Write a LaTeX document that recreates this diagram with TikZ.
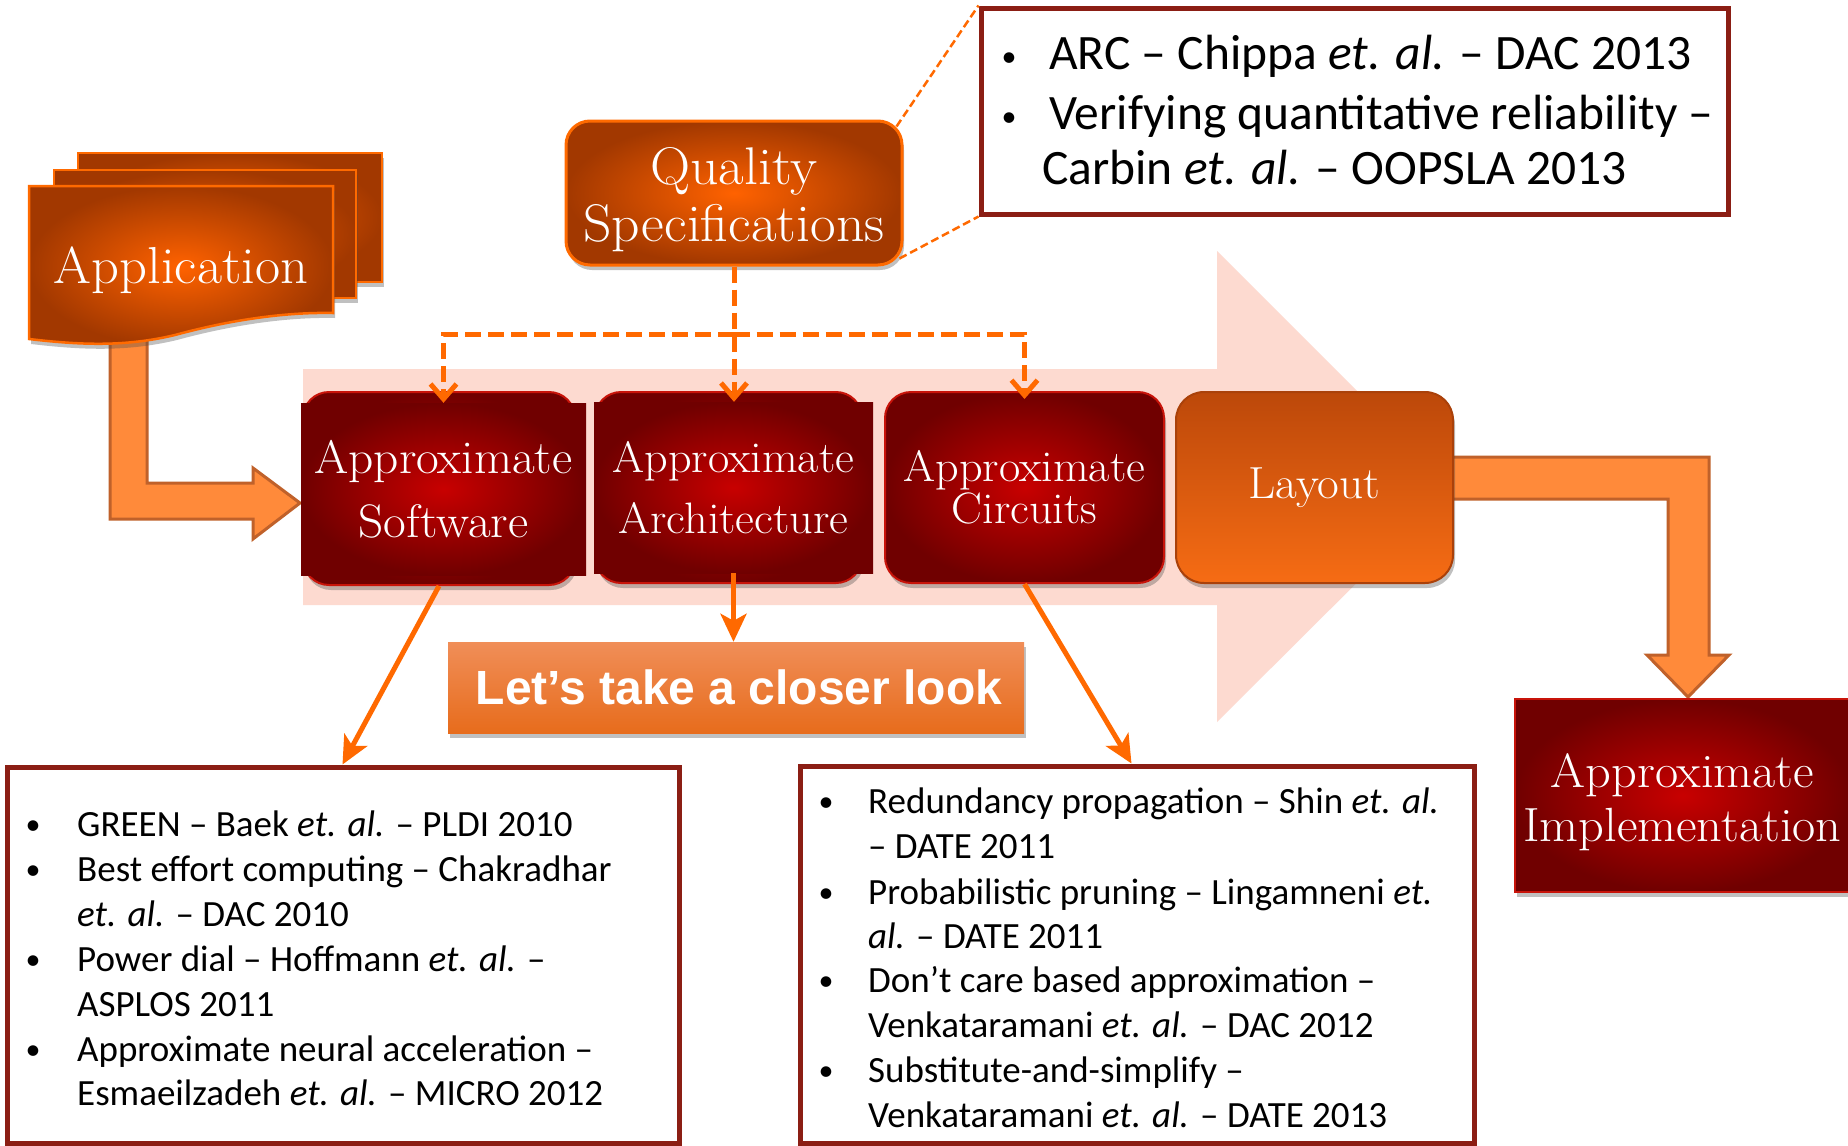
\documentclass[tikz,border=0pt]{standalone}
\usepackage{fontspec}
\newfontfamily\gill{Carlito}
\newfontfamily\arialb{Liberation Sans}
\newfontfamily\serifw[FakeStretch=1.05]{Latin Modern Roman}
\usetikzlibrary{arrows.meta,shadows,calc}
\definecolor{orline}{RGB}{255,105,0}
\definecolor{pinkbg}{RGB}{253,218,208}
\definecolor{barrowfill}{RGB}{255,138,58}
\definecolor{barrowline}{RGB}{192,97,42}
\definecolor{boxline}{RGB}{139,30,20}
\definecolor{redin}{RGB}{200,0,0}
\definecolor{redout}{RGB}{112,0,0}
\definecolor{redline}{RGB}{200,20,10}
\definecolor{orin}{RGB}{255,98,0}
\definecolor{orout}{RGB}{162,56,0}
\definecolor{orborder}{RGB}{255,106,0}
\definecolor{laytop}{RGB}{188,72,10}
\definecolor{laybot}{RGB}{246,108,20}
\definecolor{layline}{RGB}{170,65,10}
\definecolor{lettop}{RGB}{240,142,88}
\definecolor{letbot}{RGB}{231,108,28}
\newcommand{\etal}{\textit{et. al.}}
\newcommand{\bul}{{\fontsize{30}{30}\selectfont •}}
\begin{document}
\begin{tikzpicture}[x=1pt,y=-1pt,
  shad/.style={drop shadow={opacity=0.35,shadow xshift=2pt,shadow yshift=-5pt,fill=black!70}},
  docshape/.style={draw=orborder,line width=2.5pt,inner color=orin,outer color=orout,shad},
  qbox/.style={draw=orborder,line width=3pt,rounded corners=24pt,inner color=orin,outer color=orout,shad,inner sep=0pt},
  wtext/.style={text=white,align=center,inner sep=0pt},
  redround/.style={draw=redline,line width=2pt,rounded corners=26pt,inner color=redin,outer color=redout,shad,inner sep=0pt},
  redrect/.style={inner color=redin,outer color=redout,inner sep=0pt,text=white,align=center},
  laybox/.style={draw=layline,line width=2pt,rounded corners=28pt,top color=laytop,bottom color=laybot,shad,
     inner sep=0pt,text=white,font=\serifw\fontsize{45}{52}\selectfont},
  implbox/.style={draw=redline,line width=2pt,inner color=redin,outer color=redout,shad,inner sep=0pt},
  letbox/.style={top color=lettop,bottom color=letbot,shad,inner sep=0pt,text=white,
     font=\arialb\bfseries\fontsize{48}{56}\selectfont},
  refbox/.style={draw=boxline,line width=5pt,fill=white,inner sep=0pt},
  listtxt/.style={inner sep=0pt,text=black,font=\gill\fontsize{37}{45}\selectfont},
  arctxt/.style={inner sep=0pt,text=black,font=\gill\fontsize{49.5}{57}\selectfont},
  blockarrow/.style={fill=barrowfill,draw=barrowline,line width=3pt,line join=miter},
  dasharrow/.style={draw=orline,line width=5pt,dash pattern=on 16pt off 7pt,-{Straight Barb[length=15pt,width=26pt,line width=5pt]}},
  thindash/.style={draw=orline,line width=2.5pt,dash pattern=on 8pt off 4pt},
  solidarrow/.style={draw=orline,line width=5pt,-{Stealth[length=28pt,width=26pt,inset=7pt]}}
]
\useasboundingbox (0,0) rectangle (1848,1146);
\fill[white] (0,0) rectangle (1848,1146);

% big pink background arrow
\fill[pinkbg] (303,369) -- (1217,369) -- (1217,251) -- (1453,487) -- (1217,722) -- (1217,605) -- (303,605) -- cycle;

% block arrow from application
\draw[blockarrow] (110,330) -- (147,330) -- (147,483) -- (253,483) -- (253,468) -- (300,503) -- (253,539) -- (253,519) -- (110,519) -- cycle;
% block arrow to implementation
\draw[blockarrow] (1440,457) -- (1709,457) -- (1709,655) -- (1729,655) -- (1688,697) -- (1647,655) -- (1668,655) -- (1668,499) -- (1440,499) -- cycle;

% application document stack
\draw[docshape] (78,153) rectangle (382,282);
\draw[docshape] (54,170) rectangle (356,298);
\draw[docshape] (29,186) -- (333,186) -- (333,313) .. controls (285,312) and (230,320) .. (175,335) .. controls (125,347) and (80,345) .. (29,339) -- cycle;
\node[wtext,font=\serifw\fontsize{52}{58}\selectfont] (app) at (181,270) {Application};

% quality specifications
\node[qbox,minimum width=336pt,minimum height=144pt] (qs) at (734,193) {};
\node[wtext,font=\serifw\fontsize{53}{57}\selectfont] (qslabel) at (734,200) {Quality\\Specifications};

% reference box top
\node[refbox,minimum width=747pt,minimum height=206pt] (arc) at (1354.5,111) {};
\node[arctxt,anchor=base] (ab1) at (1009,66) {\bul};
\node[arctxt,anchor=base west] (at1) at (1049,69) {ARC – Chippa \etal{} – DAC 2013};
\node[arctxt,anchor=base] (ab2) at (1009,126) {\bul};
\node[arctxt,anchor=base west] (at2) at (1049,129) {Verifying quantitative reliability –};
\node[arctxt,anchor=base west] (at3) at (1042,184) {Carbin \etal{} – OOPSLA 2013};

\draw[thindash] ([shift={(-7pt,-7pt)}]qs.north east) -- (arc.north west);
\draw[thindash] ([shift={(-4pt,8pt)}]qs.south east) -- (arc.south west);

% row of boxes
\node[redround,minimum width=272pt,minimum height=193pt] (swbg) at (439,488.5) {};
\node[redrect,minimum width=285pt,minimum height=172pt,font=\serifw\fontsize{47}{64}\selectfont] (sw) at (443.5,489) {Approximate\\Software};
\node[redround,minimum width=267pt,minimum height=191pt] (archbg) at (728.5,487.5) {};
\node[redrect,minimum width=279pt,minimum height=171pt,font=\serifw\fontsize{44}{61}\selectfont] (arch) at (733.5,487.5) {Approximate\\Architecture};
\node[redround,minimum width=279pt,minimum height=191pt,text=white,align=center,font=\serifw\fontsize{44}{42}\selectfont] (cir) at (1024.5,487.5) {Approximate\\Circuits};
\node[laybox,minimum width=277pt,minimum height=191pt] (lay) at (1314.5,487.5) {Layout};

% implementation
\node[implbox,minimum width=335pt,minimum height=193pt] (impl) at (1682.5,795.5) {};
\node[wtext,font=\serifw\fontsize{48}{54}\selectfont] (impllabel) at (1682.5,802) {Approximate\\Implementation};

% dashed connectors from quality specifications
\coordinate (hub) at (733.5,334);
\draw[dasharrow] (qs.south) -- (qs.south |- arch.north);
\draw[dasharrow] (hub) -- (hub -| sw.north) -- (sw.north);
\draw[dasharrow] (hub) -- (hub -| cir.north) -- ([yshift=-8pt]cir.north);

% closer look box
\node[letbox,minimum width=576pt,minimum height=91pt] (let) at (736,687.5) {\hspace*{6pt}Let’s take a closer look};

% lower reference boxes
\node[refbox,minimum width=672pt,minimum height=376pt] (lbox) at (343,955) {};
\node[refbox,minimum width=674pt,minimum height=377pt] (rbox) at (1137,954.5) {};

\draw[solidarrow] (swbg.south) -- ($(lbox.north west)+(338,0)$);
\draw[solidarrow] (arch.south) -- (arch.south |- let.north);
\draw[solidarrow] (cir.south) -- ($(rbox.north west)+(334,0)$);

% left list
\node[listtxt,anchor=base] (lb1) at (33,834) {\bul};
\node[listtxt,anchor=base west] (lt1) at (77,836) {GREEN – Baek \etal{} – PLDI 2010};
\node[listtxt,anchor=base] (lb2) at (33,879) {\bul};
\node[listtxt,anchor=base west] (lt2) at (77,881) {Best effort computing – Chakradhar};
\node[listtxt,anchor=base west] (lt3) at (77,926) {\etal{} – DAC 2010};
\node[listtxt,anchor=base] (lb3) at (33,969) {\bul};
\node[listtxt,anchor=base west] (lt4) at (77,971) {Power dial – Hoffmann \etal{} –};
\node[listtxt,anchor=base west] (lt5) at (77,1016) {ASPLOS 2011};
\node[listtxt,anchor=base] (lb4) at (33,1059) {\bul};
\node[listtxt,anchor=base west] (lt6) at (77,1061) {Approximate neural acceleration –};
\node[listtxt,anchor=base west] (lt7) at (77,1105) {Esmaeilzadeh \etal{} – MICRO 2012};

% right list
\node[listtxt,anchor=base] (rb1) at (826,811) {\bul};
\node[listtxt,anchor=base west] (rt1) at (868,813) {Redundancy propagation – Shin \etal{}};
\node[listtxt,anchor=base west] (rt2) at (868,858) {– DATE 2011};
\node[listtxt,anchor=base] (rb2) at (826,902) {\bul};
\node[listtxt,anchor=base west] (rt3) at (868,904) {Probabilistic pruning – Lingamneni \textit{et.}};
\node[listtxt,anchor=base west] (rt4) at (868,948) {\textit{al.} – DATE 2011};
\node[listtxt,anchor=base] (rb3) at (826,990) {\bul};
\node[listtxt,anchor=base west] (rt5) at (868,992) {Don’t care based approximation –};
\node[listtxt,anchor=base west] (rt6) at (868,1037) {Venkataramani \etal{} – DAC 2012};
\node[listtxt,anchor=base] (rb4) at (826,1080) {\bul};
\node[listtxt,anchor=base west] (rt7) at (868,1082) {Substitute-and-simplify –};
\node[listtxt,anchor=base west] (rt8) at (868,1127) {Venkataramani \etal{} – DATE 2013};
\end{tikzpicture}
\end{document}
